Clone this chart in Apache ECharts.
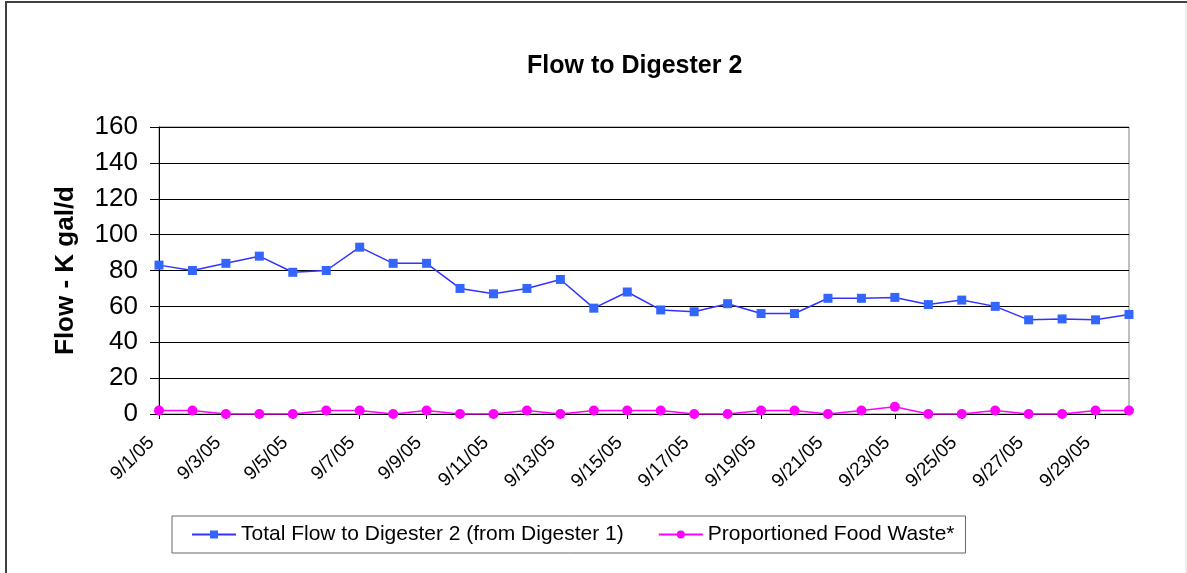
<!DOCTYPE html>
<html>
<head>
<meta charset="utf-8">
<title>Flow to Digester 2</title>
<script src="https://cdn.jsdelivr.net/npm/echarts@6/dist/echarts.min.js"></script>
<style>
    html, body { margin: 0; padding: 0; background: #fff; }
    #chart { width: 1187px; height: 573px; }
</style>
</head>
<body>
<div id="chart"></div>
<script>
// dates 9/1/05 .. 9/30/05
var dates = ['9/1/05', '9/2/05', '9/3/05', '9/4/05', '9/5/05', '9/6/05', '9/7/05', '9/8/05', '9/9/05', '9/10/05',
    '9/11/05', '9/12/05', '9/13/05', '9/14/05', '9/15/05', '9/16/05', '9/17/05', '9/18/05', '9/19/05', '9/20/05',
    '9/21/05', '9/22/05', '9/23/05', '9/24/05', '9/25/05', '9/26/05', '9/27/05', '9/28/05', '9/29/05', '9/30/05']

// Total Flow to Digester 2 (from Digester 1)
var totalFlow = [83, 80, 84, 88, 79, 80, 93, 84, 84, 70,
    67, 70, 75, 59, 68, 58, 57, 61.5, 56, 56,
    64.5, 64.5, 65, 61, 63.5, 60, 52.5, 53, 52.5, 55.5]

// Proportioned Food Waste*
var foodWaste = [2, 2, 0, 0, 0, 2, 2, 0, 2, 0,
    0, 2, 0, 2, 2, 2, 0, 0, 2, 2,
    0, 2, 4, 0, 0, 2, 0, 0, 2, 2]

var yTicks = [0, 20, 40, 60, 80, 100, 120, 140, 160]

var font = 'Liberation Sans, Arial, sans-serif'
var chart = echarts.init(document.getElementById('chart'))

chart.setOption({
    backgroundColor: '#fff',
    animation: false,
    textStyle: { fontFamily: font, color: '#000' },
    title: {
        text: 'Flow to Digester 2',
        left: 527,
        top: 54,
        padding: 0,
        textStyle: { fontFamily: font, fontSize: 25, fontWeight: 'bold', color: '#000' }
    },
    graphic: [
        {
            type: 'rect',
            shape: { x: 6, y: 2, width: 1200, height: 600 },
            style: { fill: 'none', stroke: '#404040', lineWidth: 2 },
            silent: true
        },
        {
            type: 'line',
            shape: { x1: 1186, y1: 3, x2: 1186, y2: 573 },
            style: { stroke: '#dddddd', lineWidth: 1 },
            silent: true
        }
    ],
    legend: {
        left: 172,
        top: 516,
        orient: 'horizontal',
        padding: [8, 11, 8, 19],
        itemGap: 34,
        itemWidth: 44,
        itemHeight: 10,
        borderColor: '#666',
        borderWidth: 1,
        textStyle: { fontFamily: font, fontSize: 21, color: '#000' },
        data: ['Total Flow to Digester 2 (from Digester 1)', 'Proportioned Food Waste*']
    },
    grid: {
        left: 159,
        right: 58,
        top: 127,
        bottom: 159,
        show: true,
        borderColor: '#808080',
        borderWidth: 1
    },
    xAxis: {
        type: 'category',
        data: dates,
        boundaryGap: false,
        axisLine: { lineStyle: { color: '#000', width: 1 } },
        axisTick: { show: true, interval: 1, length: 5, lineStyle: { color: '#000' } },
        axisLabel: {
            interval: 1,
            rotate: 45,
            margin: 18,
            padding: [0, 11, 0, 0],
            fontFamily: font,
            fontSize: 19,
            color: '#000'
        },
        splitLine: { show: false }
    },
    yAxis: {
        type: 'value',
        min: yTicks[0],
        max: yTicks[yTicks.length - 1],
        interval: 20,
        name: 'Flow - K gal/d',
        nameLocation: 'middle',
        nameGap: 80,
        nameTextStyle: { fontFamily: font, fontSize: 26, fontWeight: 'bold', color: '#000' },
        axisLine: { show: true, lineStyle: { color: '#000', width: 1 } },
        axisTick: { show: true, length: 9, lineStyle: { color: '#000' } },
        axisLabel: { margin: 21, fontFamily: font, fontSize: 26, color: '#000' },
        splitLine: { show: true, lineStyle: { color: '#000', width: 1 } }
    },
    series: [
        {
            name: 'Total Flow to Digester 2 (from Digester 1)',
            type: 'line',
            data: totalFlow,
            symbol: 'rect',
            symbolSize: 9,
            lineStyle: { color: '#3333ff', width: 1.5 },
            itemStyle: { color: '#3366ff' }
        },
        {
            name: 'Proportioned Food Waste*',
            type: 'line',
            data: foodWaste,
            symbol: 'circle',
            symbolSize: 10,
            lineStyle: { color: '#ff00ff', width: 1.5 },
            itemStyle: { color: '#ff00ff' }
        }
    ]
})
</script>
</body>
</html>
